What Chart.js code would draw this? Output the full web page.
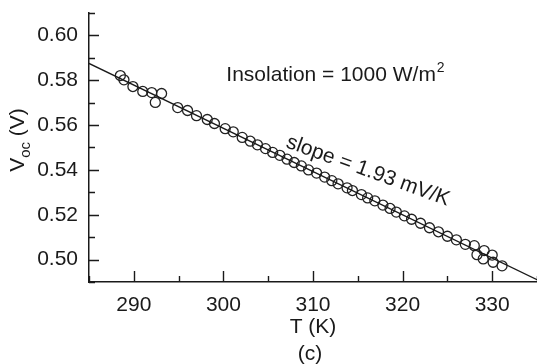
<!DOCTYPE html>
<html>
<head>
<meta charset="utf-8">
<script src="https://cdn.jsdelivr.net/npm/chart.js@4"></script>
<style>
  html, body { margin: 0; padding: 0; background: #fff; }
  canvas { display: block; }
</style>
</head>
<body>
<canvas id="vocChart" width="537" height="364"></canvas>
<script>
// measured points, T in kelvin and Voc in volts
const tempK = [
  288.5, 288.9, 289.9, 291.0, 292.0, 292.4, 293.1, 294.9, 296.0, 297.0,
  298.2, 299.0, 300.2, 301.1, 302.1, 303.0, 303.8, 304.7, 305.5, 306.3,
  307.1, 307.9, 308.7, 309.5, 310.4, 311.3, 312.1, 312.8, 313.8, 314.4,
  315.4, 316.1, 316.9, 317.8, 318.6, 319.3, 320.2, 321.0, 322.0, 323.0,
  324.0, 325.0, 326.0, 327.0, 328.0, 328.3, 329.1, 329.0, 330.0, 330.1,
  331.1
];
const vocV = [
  0.5821, 0.5802, 0.5772, 0.5750, 0.5745, 0.5701, 0.5741, 0.5678, 0.5665, 0.5642,
  0.5625, 0.5607, 0.5584, 0.5570, 0.5545, 0.5528, 0.5512, 0.5495, 0.5478, 0.5465,
  0.5448, 0.5433, 0.5418, 0.5400, 0.5386, 0.5368, 0.5352, 0.5338, 0.5320, 0.5308,
  0.5290, 0.5275, 0.5262, 0.5243, 0.5228, 0.5212, 0.5195, 0.5180, 0.5162, 0.5142,
  0.5124, 0.5104, 0.5088, 0.5068, 0.5062, 0.5022, 0.5040, 0.5003, 0.5020, 0.4988,
  0.4972
];

// straight-line fit, ends of the drawn line
const fitT = [285, 335];
const fitV = [0.5875, 0.4910];

// labelled ticks
const xLabels = [290, 300, 310, 320, 330];
const yLabels = [0.50, 0.52, 0.54, 0.56, 0.58, 0.60];

const ink = "#1a1a1a";
const fontFamily = "'Liberation Sans', Arial, Helvetica, sans-serif";

function isYLabel(v) {
  return yLabels.some((l) => Math.abs(l - v) < 1e-6);
}

// ticks drawn inwards, plus the axis titles and notes
const decorations = {
  id: "decorations",
  afterDraw(chart) {
    const ctx = chart.ctx;
    const { left, bottom } = chart.chartArea;
    const xs = chart.scales.x;
    const ys = chart.scales.y;

    ctx.save();
    ctx.strokeStyle = ink;
    ctx.lineWidth = 1.4;
    ctx.beginPath();
    xs.ticks.forEach((t) => {
      const px = Math.round(xs.getPixelForValue(t.value)) + 0.5;
      const len = xLabels.includes(t.value) ? 11 : 6;
      ctx.moveTo(px, bottom);
      ctx.lineTo(px, bottom - len);
    });
    ys.ticks.forEach((t) => {
      const py = Math.round(ys.getPixelForValue(t.value)) + 0.5;
      const len = isYLabel(t.value) ? 10 : 6;
      ctx.moveTo(left, py);
      ctx.lineTo(left + len, py);
    });
    ctx.stroke();

    ctx.fillStyle = ink;

    // y axis title: V_oc (V)
    ctx.save();
    ctx.translate(17, 140);
    ctx.rotate(-Math.PI / 2);
    ctx.textBaseline = "alphabetic";
    ctx.font = "21px " + fontFamily;
    const wV = ctx.measureText("V").width;
    const wRest = ctx.measureText(" (V)").width;
    ctx.font = "15px " + fontFamily;
    const wSub = ctx.measureText("oc").width;
    let x0 = -(wV + wSub + wRest) / 2;
    ctx.font = "21px " + fontFamily;
    ctx.fillText("V", x0, 7);
    ctx.font = "15px " + fontFamily;
    ctx.fillText("oc", x0 + wV, 13);
    ctx.font = "21px " + fontFamily;
    ctx.fillText(" (V)", x0 + wV + wSub, 7);
    ctx.restore();

    // x axis title and panel tag
    ctx.textAlign = "center";
    ctx.textBaseline = "middle";
    ctx.font = "21px " + fontFamily;
    ctx.fillText("T (K)", 313, 327);
    ctx.fillText("(c)", 310, 354);

    // insolation note
    ctx.textAlign = "left";
    ctx.textBaseline = "alphabetic";
    ctx.font = "21px " + fontFamily;
    const note = "Insolation = 1000 W/m";
    const wNote = ctx.measureText(note).width;
    ctx.font = "14px " + fontFamily;
    const wSup = ctx.measureText("2").width;
    const nx = 335 - (wNote + wSup) / 2;
    ctx.font = "21px " + fontFamily;
    ctx.fillText(note, nx, 81);
    ctx.font = "14px " + fontFamily;
    ctx.fillText("2", nx + wNote + 1, 72);

    // slope note along the line
    ctx.save();
    ctx.translate(368, 171);
    ctx.rotate((20 * Math.PI) / 180);
    ctx.textAlign = "center";
    ctx.textBaseline = "middle";
    ctx.font = "21px " + fontFamily;
    ctx.fillText("slope = 1.93 mV/K", 0, 0);
    ctx.restore();

    ctx.restore();
  },
};

const ctx = document.getElementById("vocChart").getContext("2d");

new Chart(ctx, {
  type: "scatter",
  data: {
    datasets: [
      {
        label: "fit",
        data: fitT.map((t, i) => ({ x: t, y: fitV[i] })),
        showLine: true,
        borderColor: ink,
        borderWidth: 1.3,
        pointRadius: 0,
        fill: false,
      },
      {
        label: "Voc",
        data: tempK.map((t, i) => ({ x: t, y: vocV[i] })),
        pointStyle: "circle",
        pointRadius: 5,
        pointBorderWidth: 1.3,
        borderColor: "#222",
        backgroundColor: "rgba(0,0,0,0)",
      },
    ],
  },
  options: {
    responsive: false,
    animation: false,
    layout: {
      autoPadding: false,
      padding: { top: 13, right: 0, left: 0, bottom: 0 },
    },
    plugins: {
      legend: { display: false },
      tooltip: { enabled: false },
    },
    scales: {
      x: {
        type: "linear",
        min: 285,
        max: 335,
        grid: { display: false, drawTicks: false },
        border: { display: true, color: ink, width: 1.5 },
        ticks: {
          stepSize: 5,
          autoSkip: false,
          maxRotation: 0,
          padding: 11,
          color: ink,
          font: { size: 21, family: fontFamily },
          callback: (v) => (xLabels.includes(v) ? String(v) : ""),
        },
        afterFit: (scale) => {
          scale.height = 82;
          scale.paddingLeft = 0;
          scale.paddingRight = 0;
        },
      },
      y: {
        type: "linear",
        min: 0.49,
        max: 0.61,
        grid: { display: false, drawTicks: false },
        border: { display: true, color: ink, width: 1.5 },
        ticks: {
          stepSize: 0.01,
          autoSkip: false,
          padding: 11,
          color: ink,
          font: { size: 21, family: fontFamily },
          callback: (v) => (isYLabel(v) ? v.toFixed(2) : ""),
        },
        afterFit: (scale) => {
          scale.width = 89;
          scale.paddingTop = 0;
          scale.paddingBottom = 0;
        },
      },
    },
  },
  plugins: [decorations],
});
</script>
</body>
</html>
